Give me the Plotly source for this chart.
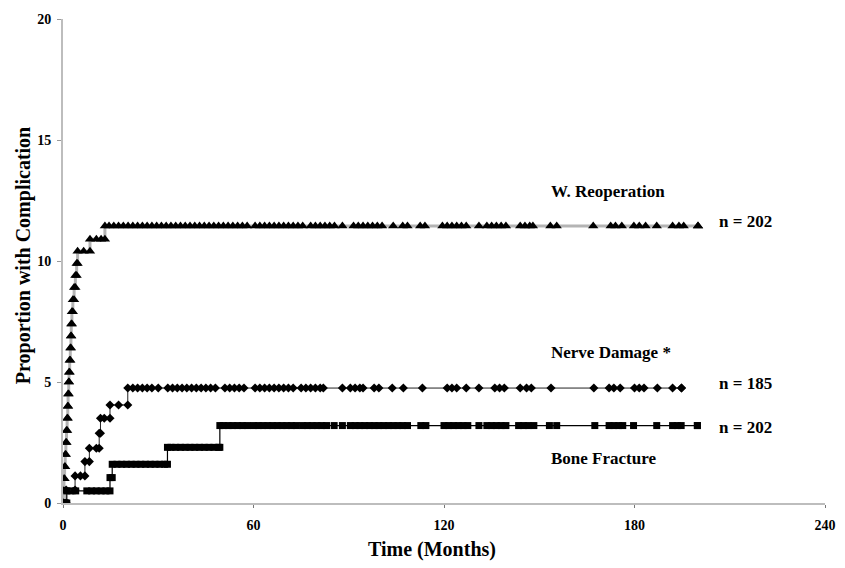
import plotly.graph_objects as go

# ---------------- data ----------------
# Wound reoperation (n = 202): step events (month, cumulative %) and censor marks (month)
reop_step_months = [0.1, 0.3, 0.5, 0.7, 0.9, 1.1, 1.3, 1.5, 1.6, 1.8, 1.9, 2.1, 2.3,
                    2.5, 2.6, 2.8, 3.1, 3.5, 3.9, 4.3, 4.6, 8.5, 13.2]
reop_step_pct = [0.5, 1.0, 1.5, 2.0, 2.5, 3.0, 3.5, 4.0, 4.5, 5.0, 5.4, 5.9, 6.4,
                 6.9, 7.4, 7.9, 8.4, 8.9, 9.4, 9.9, 10.4, 10.9, 11.45]
reop_censor_months = [6.5, 10.5, 12.0,
                      14.5, 16, 17.5, 19, 20.5, 22, 23.5, 25, 26.5, 28, 29.5, 31, 32.5, 34,
                      35.5, 37, 38.5, 40, 41.5, 43, 44.5, 46, 47.5, 49, 50.5, 52, 53.5, 55,
                      56.5, 58, 60.5, 62, 63.5, 65, 66.5, 68, 69.5, 71, 72.5, 74, 75.5,
                      78, 79.5, 81, 82.5, 84, 85.5, 88, 91.5, 93, 94.5, 96, 97.5, 99, 100.5,
                      104, 107, 108.5, 112.5, 114, 119.5, 121, 122.5, 124, 125.5, 127, 131,
                      133.5, 135, 136.5, 138, 139.5, 144, 145.5, 147, 148, 153.5, 155.5,
                      167, 172.5, 174, 176, 179.8, 181.5, 183.5, 187, 192, 194, 195.5, 200]
reop_end_month = 200

# Nerve damage (n = 185)
nerve_step_months = [1.0, 3.8, 6.9, 8.3, 11.4, 11.8, 14.8, 20.4]
nerve_step_pct = [0.54, 1.12, 1.71, 2.26, 2.88, 3.5, 4.05, 4.75]
nerve_censor_months = [5.5, 10.5, 13.0, 17.5,
                       22, 23.5, 25, 26.5, 28, 30, 33, 34.5, 36, 37.5, 39, 40.5, 42, 43.5,
                       45, 46.5, 48, 51, 52.5, 54, 55.5, 57, 60.5, 62, 63.5, 65, 66.5, 68,
                       69.5, 71, 72.5, 75, 76.5, 78, 79.5, 81, 82, 88, 90.5, 92, 93.5, 94.5,
                       98, 99.5, 103.7, 107.2, 113.2, 121, 122.5, 124, 127, 131, 136, 137.5,
                       139, 144, 146, 147.5, 153.7, 167.2, 172, 173.5, 175.5, 180, 181.5,
                       183, 187.2, 192, 194.8]
nerve_end_month = 194.8

# Bone fracture (n = 202)
bone_step_months = [1.2, 14.8, 15.5, 32.9, 49.4]
bone_step_pct = [0.5, 1.05, 1.6, 2.3, 3.2]
bone_censor_months = [0.4, 0.8, 2.5, 4.0, 7.5, 9.0, 10.5, 12.0, 13.5,
                      17, 18.5, 20, 21.5, 23, 24.5, 26, 27.5, 29, 30.5, 32,
                      34, 35.5, 37, 38.5, 40, 41.5, 43, 44.5, 46, 47.5, 49,
                      50.5, 52, 53.5, 55, 56.5, 58, 60, 61.5, 63, 64.5, 66, 67.5, 69, 70.5,
                      72, 73.5, 75.5, 77, 78.5, 80, 81.5, 83, 85.4, 88, 90.5, 92, 93.5, 95,
                      96.5, 98, 99.5, 101, 102.5, 104, 105.5, 107, 108.5, 112.7, 114.3, 120,
                      121.5, 123, 124.5, 126, 127.5, 131, 133.5, 135, 136.5, 138, 139.5,
                      143.5, 145, 146.5, 148.3, 153.2, 155.5, 167.5, 172, 173.5, 175, 176.3,
                      179.7, 187, 192, 193.5, 194.7, 199.8]
bone_end_month = 199.8

x_ticks = [0, 60, 120, 180, 240]
y_ticks = [0, 5, 10, 15, 20]

labels = ["W. Reoperation", "Nerve Damage *", "Bone Fracture"]
n_labels = ["n = 202", "n = 185", "n = 202"]
x_title = "Time (Months)"
y_title = "Proportion with Complication"


def km_points(step_t, step_y, censor_t, end_t):
    """Build step-curve vertices (both corners of each step) plus censor marks."""
    pts = [(0.0, 0, 0.0)]
    prev = 0.0
    for t, y in zip(step_t, step_y):
        pts.append((t, 0, prev))
        pts.append((t, 2, y))
        prev = y
    for c in censor_t:
        lvl = 0.0
        for t, y in zip(step_t, step_y):
            if t <= c:
                lvl = y
        pts.append((c, 1 if c < step_t[-1] else 3, lvl))
    pts.append((end_t, 4, step_y[-1]))
    pts.sort(key=lambda p: (p[0], p[1]))
    return [p[0] for p in pts], [p[2] for p in pts]


rx, ry = km_points(reop_step_months, reop_step_pct, reop_censor_months, reop_end_month)
nx, ny = km_points(nerve_step_months, nerve_step_pct, nerve_censor_months, nerve_end_month)
bx, by = km_points(bone_step_months, bone_step_pct, bone_censor_months, bone_end_month)

fig = go.Figure()
fig.add_trace(go.Scatter(x=rx, y=ry, mode="lines+markers",
                         line=dict(color="#b4b4b4", width=3),
                         marker=dict(symbol="triangle-up", size=9, color="black"),
                         name=labels[0], showlegend=False))
fig.add_trace(go.Scatter(x=bx, y=by, mode="lines+markers",
                         line=dict(color="black", width=1.2),
                         marker=dict(symbol="square", size=7, color="black"),
                         name=labels[2], showlegend=False))
fig.add_trace(go.Scatter(x=nx, y=ny, mode="lines+markers",
                         line=dict(color="#222222", width=1),
                         marker=dict(symbol="diamond", size=7, color="black"),
                         name=labels[1], showlegend=False))

serif = "Liberation Serif"
ann_font = dict(family=serif, size=17, color="black", weight="bold")

# series labels (left-aligned) and n-counts to the right of the curves
lab_x = 153.0
n_x = 206.0
fig.add_annotation(x=lab_x, y=12.87, text=labels[0], showarrow=False, font=ann_font,
                   xanchor="left", yanchor="middle")
fig.add_annotation(x=lab_x, y=6.21, text=labels[1], showarrow=False, font=ann_font,
                   xanchor="left", yanchor="middle")
fig.add_annotation(x=lab_x, y=1.85, text=labels[2], showarrow=False, font=ann_font,
                   xanchor="left", yanchor="middle")
fig.add_annotation(x=n_x, y=11.62, text=n_labels[0], showarrow=False, font=ann_font,
                   xanchor="left", yanchor="middle")
fig.add_annotation(x=n_x, y=4.95, text=n_labels[1], showarrow=False, font=ann_font,
                   xanchor="left", yanchor="middle")
fig.add_annotation(x=n_x, y=3.11, text=n_labels[2], showarrow=False, font=ann_font,
                   xanchor="left", yanchor="middle")

# axis titles
fig.add_annotation(xref="paper", yref="paper", x=0.484, y=-0.096, text=x_title,
                   xanchor="center", yanchor="middle", showarrow=False,
                   font=dict(family=serif, size=20, color="black", weight="bold"))
fig.add_annotation(xref="paper", yref="paper", x=-0.0525, y=0.512, text=y_title, textangle=-90,
                   xanchor="center", yanchor="middle", showarrow=False,
                   font=dict(family=serif, size=20, color="black", weight="bold"))

# page body has an 8px margin: figure is sized to fit the 845x568 window exactly
fig.update_layout(
    width=837, height=560,
    margin=dict(l=55, r=20, t=11, b=65),
    paper_bgcolor="white", plot_bgcolor="white",
    font=dict(family=serif, color="black"),
)
fig.update_xaxes(range=[0, 240], tickvals=x_ticks, ticktext=[str(v) for v in x_ticks],
                 automargin=False,
                 showgrid=False, zeroline=False, showline=True, linecolor="#bdbdbd", linewidth=2,
                 ticks="outside", ticklen=3, tickcolor="#777777",
                 ticklabelstandoff=5,
                 tickfont=dict(family=serif, size=14, weight="bold"))
fig.update_yaxes(range=[0, 20], tickvals=y_ticks, ticktext=[str(v) for v in y_ticks],
                 automargin=False,
                 showgrid=False, zeroline=False, showline=True, linecolor="#bdbdbd", linewidth=2,
                 ticks="outside", ticklen=4, tickcolor="#999999",
                 ticklabelstandoff=3,
                 tickfont=dict(family=serif, size=14, weight="bold"))

fig.write_html("out.html")
